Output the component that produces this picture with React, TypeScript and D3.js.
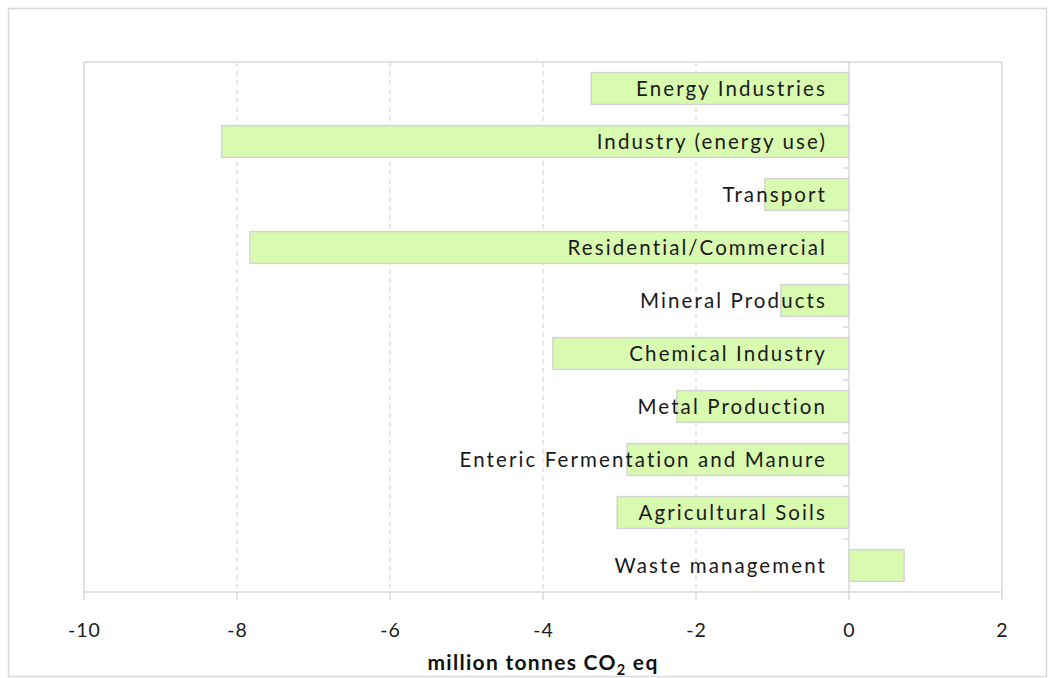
import React from "react";
import * as d3 from "d3";

const categories = [
  "Energy Industries",
  "Industry (energy use)",
  "Transport",
  "Residential/Commercial",
  "Mineral Products",
  "Chemical Industry",
  "Metal Production",
  "Enteric Fermentation and Manure",
  "Agricultural Soils",
  "Waste management",
];
const values = [-3.37, -8.2, -1.1, -7.83, -0.89, -3.87, -2.25, -2.9, -3.03, 0.72];
const xTicks = [-10, -8, -6, -4, -2, 0, 2];
const axisTitle = "million tonnes CO";

const W = 1052;
const H = 678;
const M = { left: 84, right: 1002, top: 62, bottom: 592 };
const FONT = "Lato, 'Open Sans', sans-serif";
const GRID = "#d9d9d9";

export default function App() {
  const x = d3.scaleLinear().domain([-10, 2]).range([M.left, M.right]);
  const y = d3
    .scaleBand<string>()
    .domain(categories)
    .range([M.top, M.bottom])
    .paddingInner(0.4)
    .paddingOuter(0.2);
  const step = y.step();
  const x0 = x(0);

  return (
    <svg
      width={W}
      height={H}
      style={{ position: "absolute", left: 0, top: 0, display: "block" }}
    >
      <rect x={0} y={0} width={W} height={H} fill="#fff" />
      <rect x={8.5} y={8.5} width={1038} height={668} fill="none" stroke={GRID} strokeWidth={1.5} />
      {/* plot frame */}
      <line x1={M.left} x2={M.right} y1={M.top} y2={M.top} stroke={GRID} strokeWidth={1.5} />
      <line x1={M.left} x2={M.left} y1={M.top} y2={M.bottom} stroke={GRID} strokeWidth={1.5} />
      <line x1={M.right} x2={M.right} y1={M.top} y2={M.bottom} stroke={GRID} strokeWidth={1.5} />
      {/* gridlines */}
      {xTicks
        .filter((t) => t !== 0 && t !== -10 && t !== 2)
        .map((t) => (
          <line
            key={"g" + t}
            x1={x(t)}
            x2={x(t)}
            y1={M.top}
            y2={M.bottom}
            stroke={GRID}
            strokeWidth={1.2}
            strokeDasharray="5,4"
          />
        ))}
      {/* x axis */}
      <line x1={M.left} x2={M.right} y1={M.bottom} y2={M.bottom} stroke={GRID} strokeWidth={1.5} />
      {xTicks.map((t) => (
        <g key={"t" + t}>
          <line x1={x(t)} x2={x(t)} y1={M.bottom} y2={M.bottom + 8} stroke={GRID} strokeWidth={1.5} />
          <text
            x={x(t) + 0.5}
            y={M.bottom + 45}
            textAnchor="middle"
            fontFamily={FONT}
            fontSize={19.5}
            letterSpacing={1}
            fill="#1a1a1a"
          >
            {t}
          </text>
        </g>
      ))}
      {/* bars */}
      {categories.map((c, i) => {
        const v = values[i];
        return (
          <rect
            key={"b" + c}
            x={Math.min(x(v), x0)}
            y={y(c)!}
            width={Math.abs(x(v) - x0)}
            height={y.bandwidth()}
            fill="#d9fbb0"
            stroke="#d4d4d4"
            strokeWidth={1.5}
          />
        );
      })}
      {/* category axis */}
      <line x1={x0} x2={x0} y1={M.top} y2={M.bottom} stroke={GRID} strokeWidth={1.5} />
      {d3.range(categories.length + 1).map((i) => (
        <line
          key={"ct" + i}
          x1={x0 - 6}
          x2={x0}
          y1={M.top + i * step}
          y2={M.top + i * step}
          stroke={GRID}
          strokeWidth={1.5}
        />
      ))}
      {categories.map((c) => (
        <text
          key={"l" + c}
          x={x0 - 22}
          y={y(c)! + y.bandwidth() / 2}
          dy="0.35em"
          textAnchor="end"
          fontFamily={FONT}
          fontSize={20.5}
          letterSpacing={2.1}
          fill="#1a1a1a"
        >
          {c}
        </text>
      ))}
      <text
        x={(M.left + M.right) / 2}
        y={670}
        textAnchor="middle"
        fontFamily={FONT}
        fontSize={21}
        letterSpacing={1.3}
        fontWeight="bold"
        fill="#111"
      >
        {axisTitle}
        <tspan fontSize={14.5} dy={5}>2</tspan>
        <tspan dy={-5}> eq</tspan>
      </text>
    </svg>
  );
}
